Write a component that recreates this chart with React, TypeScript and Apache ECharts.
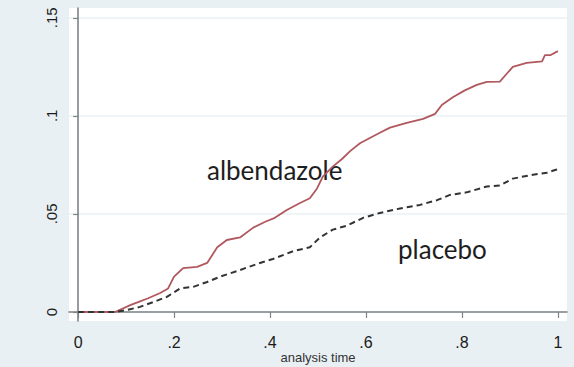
import React, { useEffect, useRef } from "react";
import * as echarts from "echarts";

const xTicks = [0, 0.2, 0.4, 0.6, 0.8, 1];
const yTicks = [0, 0.05, 0.1, 0.15];

const albTime = [0, 0.077, 0.11, 0.125, 0.146, 0.171, 0.1875, 0.2, 0.219, 0.248, 0.269, 0.29, 0.31, 0.3375, 0.365, 0.39, 0.41, 0.435, 0.4625, 0.483, 0.498, 0.51, 0.53, 0.55, 0.567, 0.5875, 0.61, 0.63, 0.65, 0.685, 0.719, 0.744, 0.758, 0.781, 0.806, 0.831, 0.852, 0.879, 0.906, 0.935, 0.967, 0.973, 0.985, 1.0];
const albFail = [0, 0, 0.0036, 0.005, 0.007, 0.0097, 0.012, 0.018, 0.0224, 0.023, 0.025, 0.033, 0.0367, 0.038, 0.043, 0.046, 0.048, 0.052, 0.0556, 0.058, 0.063, 0.069, 0.074, 0.078, 0.082, 0.086, 0.089, 0.0915, 0.094, 0.0964, 0.0985, 0.101, 0.1055, 0.1095, 0.113, 0.1158, 0.1173, 0.1175, 0.125, 0.127, 0.1278, 0.131, 0.131, 0.133];

const plaTime = [0, 0.077, 0.102, 0.129, 0.156, 0.185, 0.2125, 0.24, 0.269, 0.296, 0.3375, 0.379, 0.406, 0.448, 0.483, 0.504, 0.531, 0.56, 0.594, 0.629, 0.671, 0.7125, 0.748, 0.775, 0.81, 0.852, 0.879, 0.906, 0.948, 0.977, 0.994, 1.0];
const plaFail = [0, 0, 0.001, 0.0026, 0.005, 0.0077, 0.012, 0.0128, 0.0153, 0.018, 0.0214, 0.025, 0.027, 0.031, 0.033, 0.038, 0.042, 0.044, 0.048, 0.0505, 0.0528, 0.0546, 0.057, 0.0597, 0.061, 0.064, 0.0645, 0.068, 0.07, 0.071, 0.0724, 0.0728];

const fmt = (v: number) => {
  if (Math.abs(v) < 1e-9) return "0";
  if (Math.abs(v - 1) < 1e-9) return "1";
  return String(+v.toFixed(2)).replace(/^0\./, ".");
};

export default function App() {
  const ref = useRef<HTMLDivElement>(null);
  useEffect(() => {
    document.body.style.margin = "0";
    const chart = echarts.init(ref.current!, null, { renderer: "svg" });
    const alb = albTime.map((t, i) => [t, albFail[i]]);
    const pla = plaTime.map((t, i) => [t, plaFail[i]]);
    chart.setOption({
      animation: false,
      backgroundColor: "#e9f0f3",
      grid: {
        left: 69,
        right: 7,
        top: 8,
        bottom: 46,
        containLabel: false,
        outerBoundsMode: "none",
        show: true,
        backgroundColor: "#ffffff",
        borderWidth: 0,
      },
      xAxis: {
        type: "value",
        min: -0.019,
        max: 1.019,
        name: "analysis time",
        nameLocation: "middle",
        nameGap: 30,
        nameMoveOverlap: false,
        nameTextStyle: { fontFamily: "Liberation Sans", fontSize: 13, color: "#333", verticalAlign: "top" },
        axisLine: { show: true, lineStyle: { color: "#7d8386", width: 1.6 } },
        axisTick: { show: true, length: 6, customValues: xTicks, lineStyle: { color: "#7d8386", width: 1.2 } },
        axisLabel: {
          customValues: xTicks,
          formatter: fmt,
          fontFamily: "Liberation Sans",
          fontSize: 16,
          color: "#1a1a1a",
          margin: 13,
        },
        splitLine: { show: false },
      },
      yAxis: {
        type: "value",
        min: -0.0046,
        max: 0.155,
        axisLine: { show: true, lineStyle: { color: "#7d8386", width: 1.6 } },
        axisTick: { show: true, length: 5, customValues: yTicks, lineStyle: { color: "#7d8386", width: 1.2 } },
        axisLabel: {
          customValues: yTicks,
          formatter: fmt,
          rotate: 90,
          fontFamily: "Liberation Sans",
          fontSize: 15,
          color: "#1a1a1a",
          margin: 10,
        },
        splitLine: { show: true, lineStyle: { color: "#eaf1f3", width: 1.5 } },
      },
      series: [
        {
          name: "albendazole",
          type: "line",
          data: alb,
          showSymbol: false,
          lineStyle: { color: "#b0585e", width: 1.8 },
        },
        {
          name: "placebo",
          type: "line",
          data: pla,
          showSymbol: false,
          lineStyle: { color: "#333333", width: 2, type: [6, 4] },
        },
      ],
      graphic: [
        {
          type: "text",
          x: 207,
          y: 170,
          style: {
            text: "albendazole",
            font: "26px Lato",
            fill: "#1e1e1e",
            verticalAlign: "middle",
          },
        },
        {
          type: "text",
          x: 398,
          y: 249,
          style: {
            text: "placebo",
            font: "26px Lato",
            fill: "#1e1e1e",
            verticalAlign: "middle",
          },
        },
      ],
    });
    return () => chart.dispose();
  }, []);
  return <div ref={ref} style={{ position: "fixed", left: 0, top: 0, width: 574, height: 367 }} />;
}
